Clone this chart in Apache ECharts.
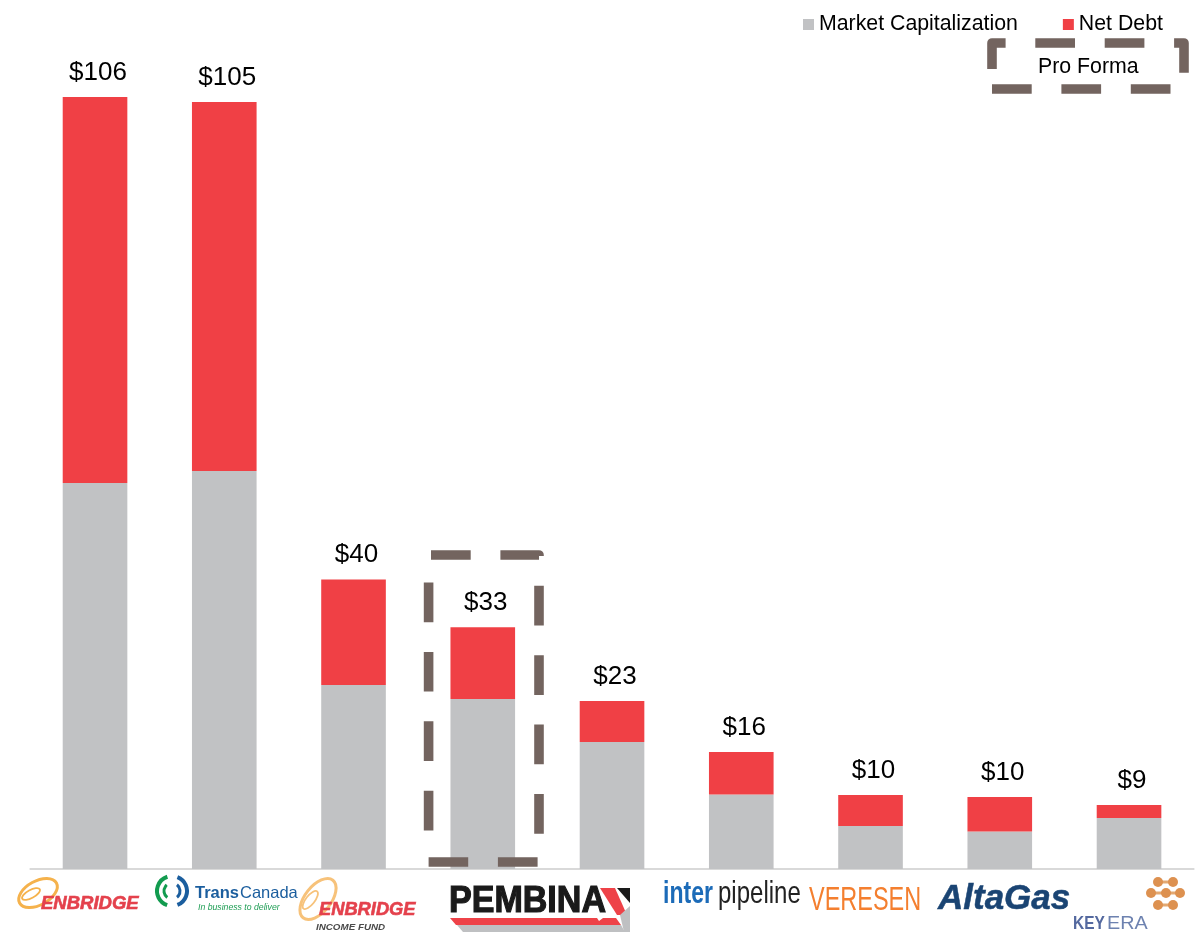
<!DOCTYPE html>
<html><head><meta charset="utf-8">
<style>html,body{margin:0;padding:0;background:#fff}#c{width:1203px;height:932px}</style>
<script src="https://cdn.jsdelivr.net/npm/echarts@6/dist/echarts.min.js"></script>
</head><body><div id="c"></div>
<script>
const categories = ['Enbridge','TransCanada','Enbridge Income Fund','Pembina (Pro Forma)','Pembina','Inter Pipeline','Veresen','AltaGas','Keyera'];
const marketCap = [53.0,54.65,25.26,23.34,17.44,10.23,5.9,5.15,7.0];
const netDebt = [53.0,50.65,14.49,9.86,5.63,5.83,4.26,4.74,1.79];
const totalLabels = ['$106','$105','$40','$33','$23','$16','$10','$10','$9'];

const FONT = '"Liberation Sans", Arial, sans-serif';
const DASH = '#73645f';
const box = (pts) => ({type:'polyline',silent:true,z:50,shape:{points:pts},
  style:{fill:null,stroke:DASH,lineWidth:9.6,lineDash:[39.7,29.7],lineJoin:'round'}});
const txt = (x,y,text,font,fill,extra,scaleX) => ({type:'text',silent:true,x,y,scaleX:scaleX||1,
  style:Object.assign({text,font,fill,textVerticalAlign:'middle'},extra||{})});
const heavy = (c,w) => ({stroke:c,lineWidth:w});
const swirl = (cx,cy,c,rx,ry,rot,k) => [
  {type:'ellipse',silent:true,x:cx,y:cy,rotation:rot,shape:{cx:0,cy:0,rx,ry},style:{fill:null,stroke:c,lineWidth:3}},
  {type:'ellipse',silent:true,x:cx-7*k,y:cy+1,rotation:rot,shape:{cx:0,cy:0,rx:10*k,ry:4*k},style:{fill:null,stroke:c,lineWidth:1.8}}
];
const arc = (r,a,b,c,w) => ({type:'arc',silent:true,shape:{cx:172,cy:891,r,startAngle:a,endAngle:b},style:{stroke:c,lineWidth:w,fill:null}});
const poly = (points,fill) => ({type:'polygon',silent:true,shape:{points},style:{fill}});
const dots = [[1158,882],[1173,882],[1151,893],[1166,893],[1180,893],[1158,905],[1173,905]];
const links = [[1158,882,1173,882],[1151,893,1180,893],[1158,905,1173,905]];
const logos = [
  ...swirl(38,893,'#f5b24c',21,12,0.5,1),
  txt(41,904,'ENBRIDGE','italic bold 18.5px '+FONT,'#e4414c',heavy('#e4414c',0.6)),
  // TransCanada
  arc(15,1.9,4.4,'#129b4f',4), arc(8,2.2,4.0,'#129b4f',3),
  arc(15,-1.2,1.2,'#1b5e9e',4), arc(8,-0.9,0.9,'#1b5e9e',3),
  txt(195,893,'Trans','bold 16.5px '+FONT,'#1b5e9e'),
  txt(240,893,'Canada','16.5px '+FONT,'#1b5e9e'),
  txt(198,908,'In business to deliver','italic 8.7px '+FONT,'#1f9e55'),
  // Enbridge Income Fund
  ...swirl(318,899,'#f7c27a',24,13,0.9,1.1),
  txt(319,910,'ENBRIDGE','italic bold 18.3px '+FONT,'#e4414c',heavy('#e4414c',0.6)),
  txt(316,927,'INCOME FUND','italic bold 9.8px '+FONT,'#4a4a4a'),
  // Pembina
  poly([[600,888],[615,888],[627,915],[617,915]],'#ee4248'),
  poly([[617,888],[630,888],[630,903]],'#1a1a1a'),
  poly([[620,915],[630,906],[630,932],[624,932]],'#bfc0c2'),
  poly([[450,918],[597,918],[599,921],[603,918],[616,918],[621,925],[456,925]],'#ee4248'),
  poly([[457,925],[621,925],[625,932],[463,932]],'#bfc0c2'),
  txt(449,902,'PEMBINA','bold 37px '+FONT,'#1a1a1a',heavy('#1a1a1a',1.2),0.92),
  // Inter Pipeline
  txt(663,894,'inter','bold 32px '+FONT,'#1c6bb8',null,0.72),
  txt(718,894,'pipeline','32px '+FONT,'#222',null,0.75),
  // Veresen
  txt(809,901,'VERESEN','34px '+FONT,'#f47f2f',null,0.69),
  // AltaGas
  txt(938,899,'AltaGas','italic bold 35px '+FONT,'#1a4473',heavy('#1a4473',0.5)),
  // Keyera
  ...links.map(l=>({type:'line',silent:true,shape:{x1:l[0],y1:l[1],x2:l[2],y2:l[3]},style:{stroke:'#e3a871',lineWidth:3}})),
  ...dots.map(d=>({type:'circle',silent:true,shape:{cx:d[0],cy:d[1],r:5},style:{fill:'#dd9150'}})),
  txt(1073,924,'KEY','bold 18px '+FONT,'#54699f',null,0.86),
  txt(1107,924,'ERA','18px '+FONT,'#6d82b0',null,1.1)
];

const chart = echarts.init(document.getElementById('c'),null,{renderer:'canvas'});
chart.setOption({
  animation:false,
  backgroundColor:'#fff',
  textStyle:{fontFamily:FONT},
  grid:{left:30.4,top:0,width:1163.25,height:869,containLabel:false},
  legend:{left:798,top:9,itemWidth:11,itemHeight:11,itemGap:45,icon:'rect',
    selectedMode:false,
    data:['Market Capitalization','Net Debt'],
    textStyle:{fontSize:21.3,color:'#000',fontFamily:FONT}},
  xAxis:{type:'category',data:categories,axisTick:{show:false},axisLabel:{show:false},
    axisLine:{show:true,lineStyle:{color:'#d9d9d9',width:2}}},
  yAxis:{type:'value',min:0,max:119.32,show:false,splitLine:{show:false}},
  series:[
    {name:'Market Capitalization',type:'bar',stack:'t',barWidth:'50%',data:marketCap,itemStyle:{color:'#c1c2c4'}},
    {name:'Net Debt',type:'bar',stack:'t',barWidth:'50%',data:netDebt,itemStyle:{color:'#f04045'},
      label:{show:true,position:'top',distance:11.5,offset:[3,0],fontSize:26,color:'#000',fontFamily:FONT,
        formatter:p=>totalLabels[p.dataIndex]}}
  ],
  graphic:[
    box([[992,69.1],[992,43],[1184,43],[1184,89],[992,89]]),
    box([[431,555],[539,555],[539,862],[428.6,862]]),
    box([[428.6,830.4],[428.6,560]]),
    txt(1038,67,'Pro Forma','21.3px '+FONT,'#000'),
    ...logos
  ]
});
</script></body></html>
